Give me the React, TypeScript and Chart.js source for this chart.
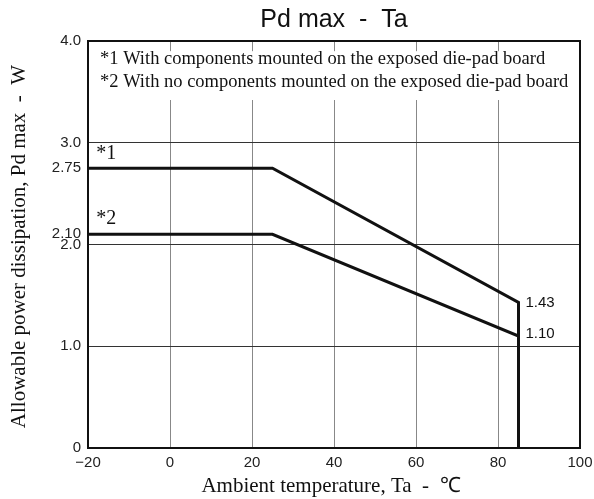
import React, { useEffect, useRef } from "react";
import { Chart, registerables } from "chart.js";

Chart.register(...registerables);

const chartTitle = "Pd max  -  Ta";
const xTitle = "Ambient temperature, Ta  -  \u2103";
const yTitle = "Allowable power dissipation, Pd max  -  W";
const notes = [
  "*1 With components mounted on the exposed die-pad board",
  "*2 With no components mounted on the exposed die-pad board",
];

const temps1 = [-20, 25, 85, 85];
const pd1 = [2.75, 2.75, 1.43, 0];
const temps2 = [-20, 25, 85, 85];
const pd2 = [2.1, 2.1, 1.1, 0];

const seriesTags = ["*1", "*2"];
const endLabels = ["1.43", "1.10"];

const yTickValues = [0, 1, 2, 2.1, 2.75, 3, 4];
const yTickLabels = ["0", "1.0", "2.0", "2.10", "2.75", "3.0", "4.0"];
const yGridValues = [1, 2, 3];
const xMin = -20;
const xMax = 100;
const xStep = 20;

const SANS = '"Liberation Sans", Arial, sans-serif';
const SERIF = '"Liberation Serif", "Times New Roman", serif';

export default function App() {
  const ref = useRef<HTMLCanvasElement | null>(null);

  useEffect(() => {
    if (!ref.current) return;
    const decor = {
      id: "decor",
      beforeDatasetsDraw(chart: any) {
        const { ctx, chartArea } = chart;
        const ys = chart.scales.y;
        ctx.save();
        ctx.fillStyle = "#fff";
        ctx.fillRect(chartArea.left + 1, ys.getPixelForValue(3.9), chartArea.right - chartArea.left - 2, ys.getPixelForValue(3.42) - ys.getPixelForValue(3.9));
        ctx.restore();
      },
      afterDatasetsDraw(chart: any) {
        const { ctx, chartArea } = chart;
        const xs = chart.scales.x;
        const ys = chart.scales.y;
        ctx.save();
        // frame
        ctx.strokeStyle = "#111";
        ctx.lineWidth = 2;
        ctx.strokeRect(chartArea.left, chartArea.top, chartArea.right - chartArea.left, chartArea.bottom - chartArea.top);
        // title
        ctx.fillStyle = "#111";
        ctx.textAlign = "center";
        ctx.textBaseline = "middle";
        ctx.font = `25px ${SANS}`;
        ctx.fillText(chartTitle, (chartArea.left + chartArea.right) / 2, 20);
        // x title
        ctx.font = `21px ${SERIF}`;
        ctx.fillText(xTitle, (chartArea.left + chartArea.right) / 2 - 3, 486);
        // y title
        ctx.save();
        ctx.translate(19, (chartArea.top + chartArea.bottom) / 2 + 2);
        ctx.rotate(-Math.PI / 2);
        ctx.fillText(yTitle, 0, 0);
        ctx.restore();
        // notes
        ctx.textAlign = "left";
        ctx.font = `18.5px ${SERIF}`;
        ctx.fillText(notes[0], chartArea.left + 12, 59);
        ctx.fillText(notes[1], chartArea.left + 12, 82);
        // series tags
        ctx.font = `20px ${SERIF}`;
        ctx.fillText(seriesTags[0], xs.getPixelForValue(-18), ys.getPixelForValue(pd1[0]) - 14);
        ctx.fillText(seriesTags[1], xs.getPixelForValue(-18), ys.getPixelForValue(pd2[0]) - 16);
        // end labels
        ctx.font = `15px ${SANS}`;
        ctx.fillText(endLabels[0], xs.getPixelForValue(temps1[2]) + 7, ys.getPixelForValue(pd1[2]));
        ctx.fillText(endLabels[1], xs.getPixelForValue(temps2[2]) + 7, ys.getPixelForValue(pd2[2]) - 2);
        ctx.restore();
      },
    };

    const chart = new Chart(ref.current, {
      type: "scatter",
      data: {
        datasets: [
          {
            data: temps1.map((t, i) => ({ x: t, y: pd1[i] })),
            showLine: true,
            borderColor: "#111",
            borderWidth: 3,
            pointRadius: 0,
          },
          {
            data: temps2.map((t, i) => ({ x: t, y: pd2[i] })),
            showLine: true,
            borderColor: "#111",
            borderWidth: 3,
            pointRadius: 0,
          },
        ],
      },
      options: {
        animation: false,
        responsive: false,
        layout: { padding: { top: 41, right: 14, left: 0, bottom: 0 } },
        plugins: { legend: { display: false }, tooltip: { enabled: false }, title: { display: false } },
        scales: {
          x: {
            type: "linear",
            min: xMin,
            max: xMax,
            afterFit: (s: any) => { s.height = 51; s.paddingLeft = 0; s.paddingRight = 0; },
            ticks: {
              stepSize: xStep,
              padding: 6,
              color: "#222",
              font: { family: SANS, size: 15 },
              callback: (v: any) => (Number(v) < 0 ? "\u2212" + Math.abs(Number(v)) : String(v)),
            },
            grid: {
              drawTicks: false,
              color: (c: any) => (c.tick && c.tick.value > xMin && c.tick.value < xMax ? "#888" : "rgba(0,0,0,0)"),
              lineWidth: 1,
            },
            border: { display: false },
          },
          y: {
            type: "linear",
            min: 0,
            max: 4,
            afterFit: (s: any) => { s.width = 88; s.paddingTop = 0; s.paddingBottom = 0; },
            afterBuildTicks: (s: any) => { s.ticks = yTickValues.map((v) => ({ value: v })); },
            ticks: {
              autoSkip: false,
              padding: 7,
              color: "#222",
              font: { family: SANS, size: 15 },
              callback: (v: any) => {
                const i = yTickValues.indexOf(Number(v));
                return i >= 0 ? yTickLabels[i] : "";
              },
            },
            grid: {
              drawTicks: false,
              color: (c: any) => (c.tick && yGridValues.includes(c.tick.value) ? "#333" : "rgba(0,0,0,0)"),
              lineWidth: 1,
            },
            border: { display: false },
          },
        },
      },
      plugins: [decor],
    });
    return () => chart.destroy();
  }, []);

  return (
    <div style={{ position: "fixed", left: 0, top: 0, width: 594, height: 499, background: "#fff" }}>
      <canvas ref={ref} width={594} height={499} style={{ width: 594, height: 499 }} />
    </div>
  );
}
